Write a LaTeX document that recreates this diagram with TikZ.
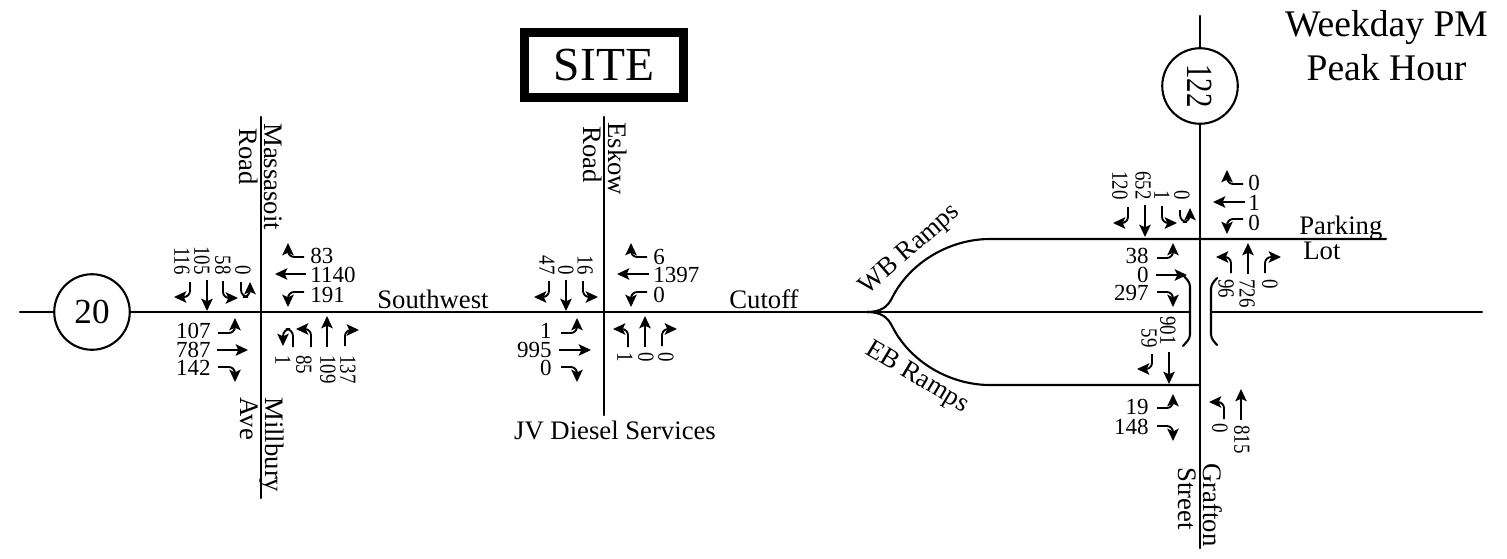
\documentclass[tikz,border=0pt]{standalone}
\usepackage{fontspec}
\setmainfont{Liberation Serif}
\usepackage{tikz}
\usetikzlibrary{arrows.meta}
\newcommand{\slim}[1]{\scalebox{0.82}[1]{#1}}
\tikzset{
  road/.style={line width=1.2pt, line cap=round},
  mov/.style={line width=1.05pt, rounded corners=3.5pt, -{Stealth[length=7pt,width=6.5pt,inset=1.5pt]}},
  cnt/.style={font=\fontsize{13.1}{14}\selectfont, inner sep=0pt},
  cntright/.style={cnt, anchor=west},
  cntleft/.style={cnt, anchor=east},
  cntup/.style={cnt, rotate=-90, anchor=east},
  cntdown/.style={cnt, rotate=-90, anchor=west},
  lbl/.style={font=\fontsize{15.2}{16}\selectfont, inner sep=0pt},
  lblrot/.style={lbl, rotate=-90, anchor=west},
  shield/.style={circle, draw, line width=1.2pt, fill=white, minimum size=43pt, inner sep=0pt, font=\fontsize{20}{21}\selectfont},
}

\begin{document}
\begin{tikzpicture}[x=0.02cm, y=-0.02cm]
    \useasboundingbox (0,0) rectangle (1507,558);

    %% Main road and cross streets
    \draw[road] (20,312) -- (1190,312);
    \draw[road] (1211,312) -- (1482,312);
    \draw[road] (261,117) -- (261,498);
    \draw[road] (604,117) -- (604,415);
    \draw[road] (1200,16) -- (1200,548);

    %% Ramps
    \draw[road] (867,312) .. controls (882,312) and (888,306) .. (892,298)
      .. controls (910,262) and (950,239) .. (990,239) -- (1386,239);
    \draw[road] (867,312) .. controls (882,312) and (888,318) .. (892,326)
      .. controls (910,362) and (950,385) .. (990,385) -- (1200,385);

    %% Bridge marks
    \draw[road, rounded corners=2pt] (1183,275) -- (1190,283) -- (1190,338) -- (1183,346);
    \draw[road, rounded corners=2pt] (1217,278) -- (1211,285) -- (1211,338) -- (1217,345);

    %% Route shields and site box
    \node[shield] (rt20) at (92,312) {20};
    \node[shield, font=\fontsize{21}{22}\selectfont] (rt122) at (1200,86)
      {\rotatebox{-90}{\scalebox{0.78}[1]{122}}};
    \node[draw, line width=5.1pt, minimum width=90.7pt, minimum height=37pt, inner sep=0pt,
      font=\fontsize{27}{28}\selectfont] (site) at (604,65) {SITE};
    \node[align=center, font=\fontsize{21.4}{25}\selectfont, inner sep=0pt] (period) at (1386.5,46)
      {Weekday PM\\Peak Hour};

    %% Street names
    \node[lblrot] (massasoit) at (273.5,123) {Massasoit};
    \node[lblrot] (massroad) at (249,128) {Road};
    \node[lblrot] (millbury) at (272,397) {Millbury};
    \node[lblrot] (millave) at (249,397) {Ave};
    \node[lblrot] (eskow) at (617.5,122) {Eskow};
    \node[lblrot] (eskroad) at (592.5,126) {Road};
    \node[lblrot] (grafton) at (1213,463) {Grafton};
    \node[lblrot] (graftst) at (1187,467) {Street};
    \node[lbl] (southwest) at (433,299) {Southwest};
    \node[lbl] (cutoff) at (764,299) {Cutoff};
    \node[lbl] (diesel) at (615,430) {JV Diesel Services};
    \node[lbl, anchor=west] (parking) at (1299,228) {Parking};
    \node[lbl, anchor=west] (lot) at (1303,251) {Lot};
    \node[lbl, rotate=41] (wbramps) at (910,250) {WB Ramps};
    \node[lbl, rotate=-31] (ebramps) at (917,378) {EB Ramps};

    %% Massasoit Road / Millbury Ave
    \foreach \x/\val in {182/116,202/105,223/58,243/0}
      \node[cntup] (masb\val) at (\x,275) {\slim{\val}};
    \foreach \y/\val in {256/83,275/1140,295/191}
      \node[cntright] (mawb\val) at (310,\y) {\val};
    \foreach \y/\val in {331/107,350/787,368/142}
      \node[cntleft] (maeb\val) at (211,\y) {\val};
    \foreach \x/\val in {283/1,304/85,328/109,348/137}
      \node[cntdown] (manb\val) at (\x,355) {\slim{\val}};
    \draw[mov] (190,282) |- (174,297);
    \draw[mov] (207,280) -- (207,311);
    \draw[mov] (223,281) |- (238,298);
    \draw[mov, rounded corners=4pt] (241,282) -- (241,297) -- (250,297) -- (250,282);
    \draw[mov] (304,257) -| (288,243);
    \draw[mov] (306,274) -- (275,274);
    \draw[mov] (304,292) -| (288,307);
    \draw[mov] (218,333) -| (235,318);
    \draw[mov] (217,350) -- (248,350);
    \draw[mov] (218,367) -| (235,382);
    \draw[mov, rounded corners=4pt] (293,347) -- (293,329) -- (283,329) -- (283,346);
    \draw[mov] (311,347) |- (296,329);
    \draw[mov] (327,347) -- (327,316);
    \draw[mov] (345,346) |- (359,330);

    %% Eskow Road
    \foreach \x/\val in {547/47,566/0,585/16}
      \node[cntup] (essb\val) at (\x,275) {\slim{\val}};
    \foreach \y/\val in {257/6,275/1397,295/0}
      \node[cntright] (eswb\val) at (653,\y) {\val};
    \foreach \y/\val in {331/1,350/995,368/0}
      \node[cntleft] (eseb\val) at (552,\y) {\val};
    \foreach \x/\val in {625/1,646/0,666/0}
      \node[cntdown] (esnb\x) at (\x,352) {\slim{\val}};
    \draw[mov] (549,281) |- (534,297);
    \draw[mov] (566,280) -- (566,311);
    \draw[mov] (583,281) |- (598,297);
    \draw[mov] (647,257) -| (631,243);
    \draw[mov] (649,274) -- (617,274);
    \draw[mov] (647,292) -| (631,307);
    \draw[mov] (561,333) -| (577,318);
    \draw[mov] (559,350) -- (591,350);
    \draw[mov] (561,367) -| (577,382);
    \draw[mov] (628,347) |- (613,329);
    \draw[mov] (645,347) -- (645,316);
    \draw[mov] (662,346) |- (677,329);

    %% Grafton Street at WB ramps
    \foreach \x/\val in {1120/120,1143/652,1162/1,1182/0}
      \node[cntup] (wrsb\val) at (\x,200) {\slim{\val}};
    \foreach \y/\val in {183/0,203/1,223/0}
      \node[cntright] (wrwb\y) at (1248,\y) {\val};
    \foreach \y/\val in {256/38,275/0,293/297}
      \node[cntleft] (wreb\val) at (1149,\y) {\val};
    \foreach \x/\val in {1226/96,1247/726,1270/0}
      \node[cntdown] (wrnb\val) at (\x,279) {\slim{\val}};
    \draw[mov] (1128,207) |- (1113,223);
    \draw[mov] (1145,205) -- (1145,237);
    \draw[mov] (1162,206) |- (1177,223);
    \draw[mov, rounded corners=4pt] (1180,210) -- (1180,222) -- (1190,222) -- (1190,208);
    \draw[mov] (1243,184) -| (1227,170);
    \draw[mov] (1245,202) -- (1213,202);
    \draw[mov] (1243,219) -| (1227,234);
    \draw[mov] (1157,258) -| (1173,243);
    \draw[mov] (1156,275) -- (1187,275);
    \draw[mov] (1157,292) -| (1173,307);
    \draw[mov] (1231,273) |- (1216,257);
    \draw[mov] (1248,274) -- (1248,243);
    \draw[mov] (1265,273) |- (1281,257);

    %% Grafton Street at EB ramps
    \node[cntup] (ersb901) at (1168,345) {\slim{901}};
    \node[cntup] (ersb59) at (1149,348) {\slim{59}};
    \foreach \y/\val in {407/19,427/148}
      \node[cntleft] (ereb\val) at (1149,\y) {\val};
    \node[cntdown] (ernb0) at (1220,423) {\slim{0}};
    \node[cntdown] (ernb815) at (1242,425) {\slim{815}};
    \draw[mov] (1152,354) |- (1137,369);
    \draw[mov] (1169,352) -- (1169,384);
    \draw[mov] (1157,408) -| (1173,394);
    \draw[mov] (1157,426) -| (1173,441);
    \draw[mov] (1224,419) |- (1209,402);
    \draw[mov] (1241,420) -- (1241,389);

\end{tikzpicture}
\end{document}
